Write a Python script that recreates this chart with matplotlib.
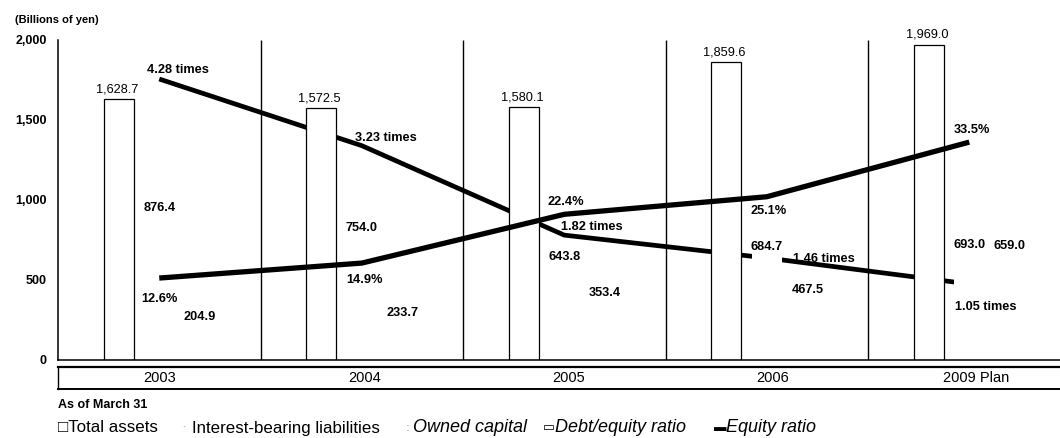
import numpy as np
import matplotlib.pyplot as plt

years = ['2003', '2004', '2005', '2006', '2009 Plan']
total_assets = [1628.7, 1572.5, 1580.1, 1859.6, 1969.0]
interest_debt = [876.4, 754.0, 643.8, 684.7, 693.0]
owned_capital = [204.9, 233.7, 353.4, 467.5, 659.0]
de_ratio = [4.28, 3.23, 1.82, 1.46, 1.05]       # times
equity_ratio = [12.6, 14.9, 22.4, 25.1, 33.5]   # %
yticks = [0, 500, 1000, 1500, 2000]

plt.rcParams['font.family'] = ['Liberation Sans', 'DejaVu Sans']
plt.rcParams['font.weight'] = 'bold'

W, H = 1060, 438
fig = plt.figure(figsize=(W / 100, H / 100), dpi=100)
rect = [58 / W, 78 / H, 1002 / W, 320 / H]

# debt/equity line sits behind the bars, equity ratio line in front
ax_de = fig.add_axes(rect)
ax = fig.add_axes(rect, facecolor='none')
ax_eq = fig.add_axes(rect, facecolor='none')

x = np.arange(len(years))
xlim = (-0.5, 4.448)
for a in (ax_de, ax, ax_eq):
    a.set_xlim(*xlim)
ax_de.set_ylim(-0.148, 4.895)
ax_eq.set_ylim(0, 49.2)
ax_de.axis('off')
ax_eq.axis('off')

ax_de.plot(x, de_ratio, color='black', lw=3.4, solid_capstyle='butt')

w = 0.148
ax.bar(x - 0.2, total_assets, w, facecolor='white', edgecolor='black', lw=0.9, zorder=2)
ax.bar(x, interest_debt, w, facecolor='white', edgecolor='none', zorder=2)
ax.bar(x + 0.2, owned_capital, w, facecolor='white', edgecolor='none', zorder=2)
ax.vlines(np.arange(0.5, 4, 1), 0, 2000, color='black', lw=1.0, zorder=3)

ax.set_ylim(0, 2000)
ax.set_yticks(yticks)
ax.set_yticklabels([f'{v:,}' for v in yticks])
ax.tick_params(axis='y', length=0, pad=8, labelsize=9)
ax.set_xticks([])
for s in ('top', 'right'):
    ax.spines[s].set_visible(False)
ax.spines['left'].set_linewidth(1.1)
ax.spines['bottom'].set_linewidth(1.1)

ax_eq.plot(x, equity_ratio, color='black', lw=3.8, solid_capstyle='butt')

# value labels, offsets in pixels
fs = 9.2
for i, v in enumerate(total_assets):
    ax_eq.annotate(f'{v:,.1f}', (x[i] - 0.2, v), xycoords=ax.transData,
                   xytext=(-2, 10), textcoords='offset pixels',
                   ha='center', va='center', fontsize=fs, fontweight='normal')
ib_dy = [12, 11, 0, 3, 4]
for i, v in enumerate(interest_debt):
    ax_eq.annotate(f'{v:,.1f}', (x[i], v), xycoords=ax.transData,
                   xytext=(0, ib_dy[i]), textcoords='offset pixels',
                   ha='center', va='center', fontsize=fs)
oc_dy = [10, 10, 10, -5, 9]
for i, v in enumerate(owned_capital):
    ax_eq.annotate(f'{v:,.1f}', (x[i] + 0.2, v), xycoords=ax.transData,
                   xytext=(0, oc_dy[i]), textcoords='offset pixels',
                   ha='center', va='center', fontsize=fs)

de_off = [(19, 9), (24, 8), (28, 8), (57, -1), (16, -23)]
for i, v in enumerate(de_ratio):
    ax_eq.annotate(f'{v:.2f} times', (x[i], v), xycoords=ax_de.transData,
                   xytext=de_off[i], textcoords='offset pixels',
                   ha='center', va='center', fontsize=fs)
eq_off = [(0, -21), (3, -17), (2, 12), (2, -14), (3, 12)]
for i, v in enumerate(equity_ratio):
    ax_eq.annotate(f'{v:.1f}%', (x[i], v), xytext=eq_off[i],
                   textcoords='offset pixels',
                   ha='center', va='center', fontsize=fs)

# category strip under the plot
cat = fig.add_axes([58 / W, 49 / H, 1010 / W, 22 / H])
cat.set_xlim(*xlim)
cat.set_ylim(0, 1)
cat.set_xticks([])
cat.set_yticks([])
cat.spines['right'].set_visible(False)
cat.spines['top'].set_linewidth(1.6)
cat.spines['bottom'].set_linewidth(1.4)
cat.spines['left'].set_linewidth(1.0)
for i, yr in enumerate(years):
    cat.text(x[i], 0.5, yr, ha='center', va='center', fontsize=10.5,
             fontweight='normal')

fig.text(15 / W, 1 - 20 / H, '(Billions of yen)', fontsize=8, va='center')
fig.text(58 / W, 1 - 405 / H, 'As of March 31', fontsize=9, va='center')

# legend row
ly = 1 - 428 / H
lfs = 12.2
fig.text(58 / W, ly, '□Total assets', fontsize=lfs, va='center', fontweight='normal')
fig.text(182 / W, ly, '·', fontsize=8, color='#bbbbbb', va='center')
fig.text(192 / W, ly, 'Interest-bearing liabilities', fontsize=lfs, va='center',
         fontweight='normal')
fig.text(406 / W, ly, ':', fontsize=8, color='#bbbbbb', va='center')
fig.text(413 / W, ly, 'Owned capital', fontsize=13, style='italic', va='center',
         fontweight='normal')
fig.text(543 / W, ly, '▭', fontsize=9, va='center', fontweight='normal')
fig.text(555 / W, ly, 'Debt/equity ratio', fontsize=13, style='italic', va='center',
         fontweight='normal')
fig.text(714 / W, ly, '▬', fontsize=9, va='center', fontweight='normal')
fig.text(726 / W, ly, 'Equity ratio', fontsize=13, style='italic', va='center',
         fontweight='normal')

fig.savefig('out.png', dpi=100)
